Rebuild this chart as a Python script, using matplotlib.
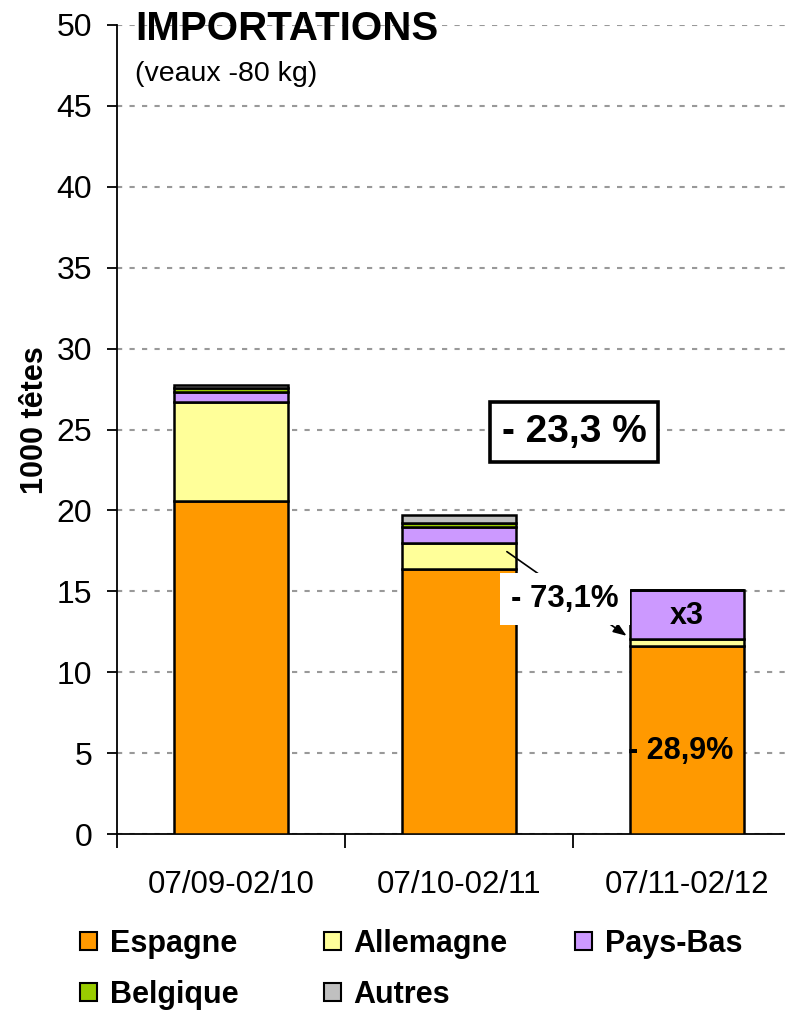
import matplotlib.pyplot as plt
from matplotlib.patches import Patch

plt.rcParams['font.family'] = ['Liberation Sans', 'DejaVu Sans']

periods = ['07/09-02/10', '07/10-02/11', '07/11-02/12']
countries = ['Espagne', 'Allemagne', 'Pays-Bas', 'Belgique', 'Autres']
espagne = [20.6, 16.36, 11.6]
allemagne = [6.1, 1.65, 0.45]
pays_bas = [0.6, 0.99, 3.0]
belgique = [0.25, 0.25, 0.0]
autres = [0.2, 0.48, 0.05]
colors = ['#FF9900', '#FFFF99', '#CC99FF', '#99CC00', '#C0C0C0']

series = [espagne, allemagne, pays_bas, belgique, autres]

fig = plt.figure(figsize=(7.85, 10.11), dpi=100)
ax = fig.add_axes([117 / 785, 1 - 834 / 1011, 684 / 785, 809 / 1011])

x = list(range(len(periods)))
bottom = [0.0] * len(periods)
for name, vals, c in zip(countries, series, colors):
    ax.bar(x, vals, 0.5, bottom=bottom, color=c, edgecolor='black', linewidth=1.8, label=name, zorder=3)
    bottom = [b + v for b, v in zip(bottom, vals)]

ax.set_xlim(-0.5, 2.5)
ax.set_ylim(0, 50)
ax.set_yticks(range(0, 51, 5))
ax.tick_params(axis='y', labelsize=23, direction='out', length=7.5, width=1.3, pad=10.5)
ax.set_xticks(x)
ax.set_xticklabels(periods, fontsize=22.5)
ax.set_xticks([-0.5, 0.5, 1.5], minor=True)
ax.tick_params(axis='x', which='major', length=0, pad=26)
ax.tick_params(axis='x', which='minor', length=10, width=1.3)
ax.yaxis.grid(True, color='#999999', linestyle=(0, (2.5, 3.5)), linewidth=1.5, zorder=0)
ax.set_axisbelow(True)
for s in ['top', 'right']:
    ax.spines[s].set_visible(False)
for s in ['left', 'bottom']:
    ax.spines[s].set_linewidth(1.3)
ax.set_ylabel('1000 têtes', fontsize=22, fontweight='bold')
ax.yaxis.set_label_coords(-0.098, 0.512)

fig.text(135 / 785, 1 - 29 / 1011, 'IMPORTATIONS', fontsize=29, fontweight='bold', va='center')
fig.text(135 / 785, 1 - 74 / 1011, '(veaux -80 kg)', fontsize=20.5, va='center')

ax.text(1.504, 24.85, '- 23,3 %', fontsize=28, fontweight='bold', ha='center', va='center',
        bbox=dict(boxstyle='square,pad=0.3', fc='white', ec='black', lw=2.6), zorder=5)

ax.annotate('', xy=(1.745, 12.15), xytext=(1.2, 17.55),
            arrowprops=dict(arrowstyle='-|>,head_length=0.8,head_width=0.3', color='black', lw=1.2),
            zorder=5)
ax.text(1.465, 14.55, '- 73,1%', fontsize=22.5, fontweight='bold', ha='center', va='center',
        bbox=dict(boxstyle='square,pad=0.35', fc='white', ec='none'), zorder=6)
ax.text(2.0, 13.5, 'x3', fontsize=22, fontweight='bold', ha='center', va='center', zorder=6)
ax.text(1.97, 5.1, '- 28,9%', fontsize=22, fontweight='bold', ha='center', va='center', zorder=6)

handles = [Patch(facecolor=c, edgecolor='black', linewidth=1.5) for c in colors]
columns = [([0, 3], 80), ([1, 4], 324), ([2], 575)]
for idx, left in columns:
    fig.legend([handles[i] for i in idx], [countries[i] for i in idx], loc='upper left',
               bbox_to_anchor=(left / 785, 1 - 929 / 1011), frameon=False,
               prop={'size': 22, 'weight': 'bold'}, handlelength=0.55, handleheight=0.55,
               handletextpad=0.42, labelspacing=0.68, borderpad=0, borderaxespad=0)

fig.savefig('out.png', dpi=100)
